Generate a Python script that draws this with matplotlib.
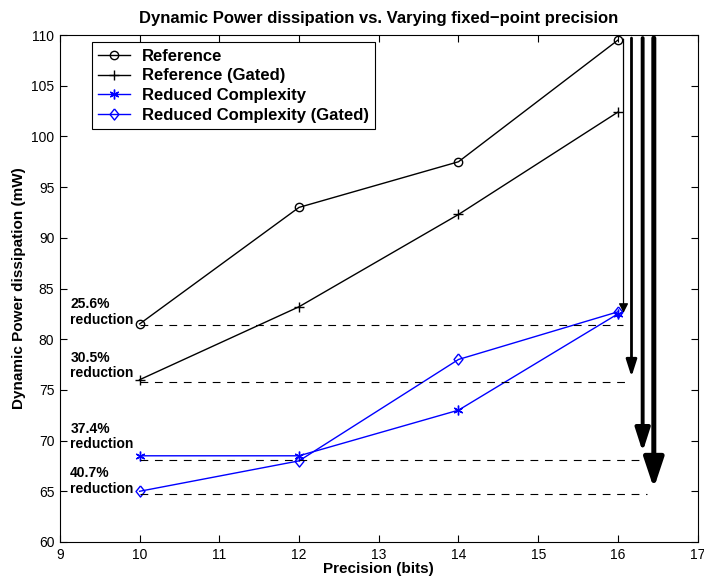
import matplotlib.pyplot as plt

plt.rcParams['font.family'] = ['Liberation Sans', 'DejaVu Sans']

# Daten
precision = [10, 12, 14, 16]
reference = [81.5, 93.0, 97.5, 109.5]
reference_gated = [76.0, 83.2, 92.3, 102.4]
reduced = [68.5, 68.5, 73.0, 82.5]
reduced_gated = [65.0, 68.0, 78.0, 82.7]

# Reduktionen: Text, Niveau der gestrichelten Linie, Pfeil-x, Pfeilspitze
reduction_labels = ['25.6%\nreduction', '30.5%\nreduction', '37.4%\nreduction', '40.7%\nreduction']
reduction_levels = [81.4, 75.8, 68.1, 64.7]
dash_ends = [16.06, 16.14, 16.29, 16.37]
arrow_x = [16.07, 16.17, 16.31, 16.45]
arrow_tips = [82.6, 76.3, 68.9, 65.3]
arrow_top = [109.6, 109.7, 109.7, 109.7]
label_y = [82.7, 77.4, 70.4, 66.0]

fig = plt.figure(figsize=(7.04, 5.77), dpi=100)
ax = fig.add_axes([0.085, 0.0607, 0.906, 0.8786])

diamond = [(0, 1), (0.8, 0), (0, -1), (-0.8, 0), (0, 1)]
ax.plot(precision, reference, 'k-', marker='o', mfc='none', ms=6, lw=1, label='Reference')
ax.plot(precision, reference_gated, 'k-', marker='+', ms=7, lw=1, label='Reference (Gated)')
ax.plot(precision, reduced, '-', color='#0000ff', marker=(6, 2, 0), ms=7, lw=1, label='Reduced Complexity')
ax.plot(precision, reduced_gated, '-', color='#0000ff', marker=diamond, mfc='none', ms=8, lw=1,
        label='Reduced Complexity (Gated)')

# gestrichelte Linien und Pfeile
styles = [(0.55, 0.28, 0.9), (1.0, 0.32, 2.0), (1.4, 0.45, 2.8), (1.8, 0.6, 3.6)]
for i in range(4):
    ax.plot([10, dash_ends[i]], [reduction_levels[i]] * 2, 'k--', lw=0.8, dashes=(7, 6))
    hl, hw, lw = styles[i]
    ax.annotate('', xy=(arrow_x[i], arrow_tips[i]), xytext=(arrow_x[i], arrow_top[i]),
                arrowprops=dict(arrowstyle=f'-|>,head_length={hl},head_width={hw}',
                                lw=lw, color='k', shrinkA=0, shrinkB=0, mutation_scale=10))
    ax.text(9.13, label_y[i], reduction_labels[i], fontsize=10, fontweight='bold',
            ha='left', va='center', linespacing=1.15)

ax.set_xlim(9, 17)
ax.set_ylim(60, 110)
ax.set_xticks(range(9, 18))
ax.set_yticks(range(60, 111, 5))
ax.tick_params(direction='in', top=True, right=True, labelsize=10, length=5, pad=4)
ax.set_title('Dynamic Power dissipation vs. Varying fixed\u2212point precision',
             fontsize=12, fontweight='bold', pad=9)
ax.set_xlabel('Precision (bits)', fontsize=11, fontweight='bold', labelpad=0)
ax.set_ylabel('Dynamic Power dissipation (mW)', fontsize=11, fontweight='bold', labelpad=4)

leg = ax.legend(loc='upper left', bbox_to_anchor=(0.05, 0.986),
                prop={'weight': 'bold', 'size': 12}, fancybox=False, framealpha=1,
                edgecolor='k', handlelength=1.9, handletextpad=0.7, borderaxespad=0,
                borderpad=0.4, labelspacing=0.28)
leg.get_frame().set_linewidth(0.8)

plt.savefig('out.png')
